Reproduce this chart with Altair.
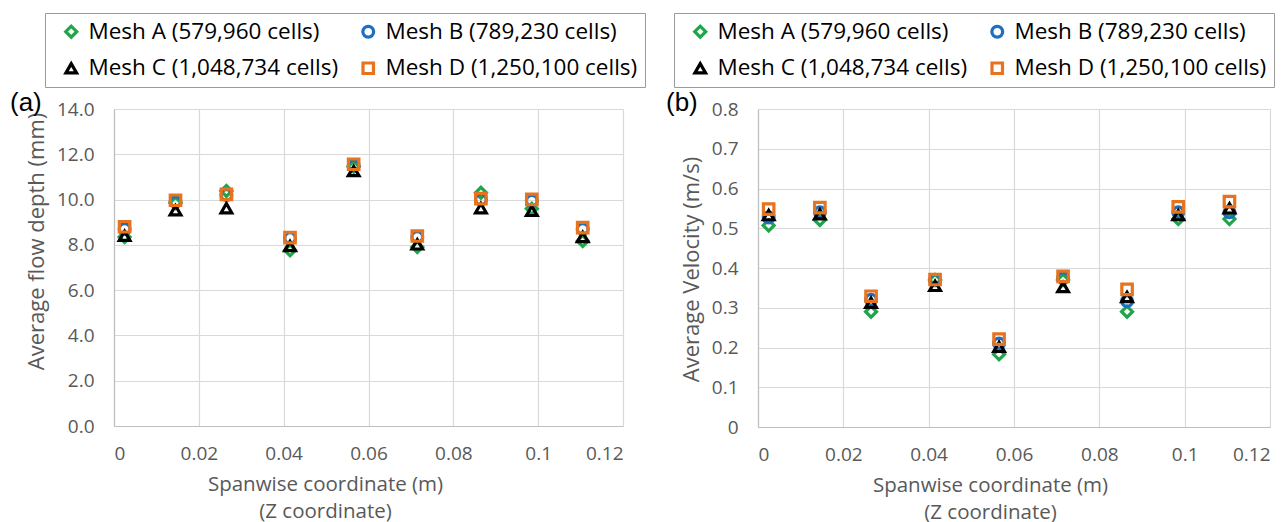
import altair as alt
import pandas as pd

meshes = ["Mesh A (579,960 cells)", "Mesh B (789,230 cells)",
          "Mesh C (1,048,734 cells)", "Mesh D (1,250,100 cells)"]
shapes = ["diamond", "circle", "triangle-up", "square"]
colors = ["#1fa54a", "#1f6fc1", "#000000", "#e8731f"]

z = [0.0025, 0.0145, 0.0265, 0.0415, 0.0565, 0.0715, 0.0865, 0.0985, 0.1105]

depth_A = [8.35, 9.85, 10.38, 7.76, 11.45, 7.9, 10.3, 9.6, 8.17]
depth_B = [8.7, 9.9, 10.2, 8.3, 11.5, 8.35, 10.0, 9.95, 8.7]
depth_C = [8.4, 9.53, 9.62, 7.95, 11.26, 8.02, 9.62, 9.5, 8.35]
depth_D = [8.8, 9.97, 10.23, 8.32, 11.56, 8.39, 10.04, 10.01, 8.76]

vel_A = [0.507, 0.521, 0.29, 0.37, 0.183, 0.37, 0.29, 0.523, 0.523]
vel_B = [0.527, 0.54, 0.32, 0.37, 0.21, 0.375, 0.317, 0.54, 0.54]
vel_C = [0.533, 0.535, 0.3125, 0.355, 0.2015, 0.352, 0.327, 0.533, 0.55]
vel_D = [0.548, 0.552, 0.329, 0.371, 0.221, 0.379, 0.346, 0.554, 0.567]

x_ticks = [0, 0.02, 0.04, 0.06, 0.08, 0.1, 0.12]
depth_ticks = [0, 2, 4, 6, 8, 10, 12, 14]
vel_ticks = [0, 0.1, 0.2, 0.3, 0.4, 0.5, 0.6, 0.7, 0.8]


def frame(series):
    rows = []
    for m, vals in zip(meshes, series):
        for x, v in zip(z, vals):
            rows.append({"z": x, "v": v, "mesh": m})
    return pd.DataFrame(rows)


df_depth = frame([depth_A, depth_B, depth_C, depth_D])
df_vel = frame([vel_A, vel_B, vel_C, vel_D])

FONT = "Open Sans"
GRAY = "#595959"


def panel(df, ytitle, yticks, ylabel_expr, tag, w, h, lx, tagx, xtx, yty):
    legend = alt.Legend(
        title=None, orient="none", legendX=lx, legendY=-96, columns=2,
        direction="horizontal",
        strokeColor="#9a9a9a", padding=7, cornerRadius=0,
        labelFont=FONT, labelFontSize=22.5, labelColor="#000000", labelLimit=0,
        symbolSize=120, symbolStrokeWidth=3.2, columnPadding=10, rowPadding=12,
        symbolOffset=8, labelOffset=6,
    )
    pts = alt.Chart(df).mark_point(filled=False, strokeWidth=3.2, opacity=1).encode(
        x=alt.X("z:Q", scale=alt.Scale(domain=[0, 0.12], nice=False),
                axis=alt.Axis(values=x_ticks,
                              labelExpr="datum.value == 0 ? '0' : format(datum.value, '.2~f')",
                              labelOverlap=False, titleX=xtx,
                              title=["Spanwise coordinate (m)", "(Z coordinate)"])),
        y=alt.Y("v:Q", scale=alt.Scale(domain=[yticks[0], yticks[-1]], nice=False),
                axis=alt.Axis(values=yticks, labelExpr=ylabel_expr, labelOverlap=False,
                              titleY=yty, title=ytitle)),
        color=alt.Color("mesh:N", scale=alt.Scale(domain=meshes, range=colors), legend=legend),
        shape=alt.Shape("mesh:N", scale=alt.Scale(domain=meshes, range=shapes), legend=legend),
        size=alt.Size("mesh:N", scale=alt.Scale(domain=meshes, range=[120, 110, 90, 150]), legend=None),
        order=alt.Order("mesh:N"),
    )
    lab = alt.Chart(pd.DataFrame({"t": [tag]})).mark_text(
        font="Liberation Sans", fontSize=26, color="#000000", align="left", baseline="middle"
    ).encode(text="t:N", x=alt.value(tagx), y=alt.value(-6))
    return alt.layer(pts, lab).properties(width=w, height=h)


left = panel(df_depth, "Average flow depth (mm)", depth_ticks,
             "format(datum.value, '.1f')", "(a)", 509, 317, -69, -104, 211, 132)
right = panel(df_vel, "Average Velocity (m/s)", vel_ticks,
              "datum.value == 0 ? '0' : format(datum.value, '.1f')", "(b)", 512, 318, -84, -92, 232, 160)

chart = alt.hconcat(left, right, spacing=20).resolve_scale(
    color="independent", shape="independent", size="independent"
).resolve_legend(color="independent", shape="independent").configure(
    padding={"left": 2, "top": 4, "right": 0, "bottom": 0},
    font=FONT,
).configure_view(stroke=None).configure_axis(
    grid=True, gridColor="#d9d9d9", gridWidth=1.2,
    domainColor="#bfbfbf", domainWidth=1.2, ticks=False, tickSize=0,
    labelFont=FONT, labelFontSize=19, labelColor=GRAY,
    titleFont=FONT, titleColor=GRAY, titleFontWeight="normal",
).configure_axisY(labelPadding=20, titlePadding=8, domain=True, titleFontSize=22).configure_axisX(
    labelPadding=18, titlePadding=11, domain=True, titleLineHeight=27, titleFontSize=20.5
)

chart.save("out.html", embed_options={"renderer": "svg", "actions": False})
